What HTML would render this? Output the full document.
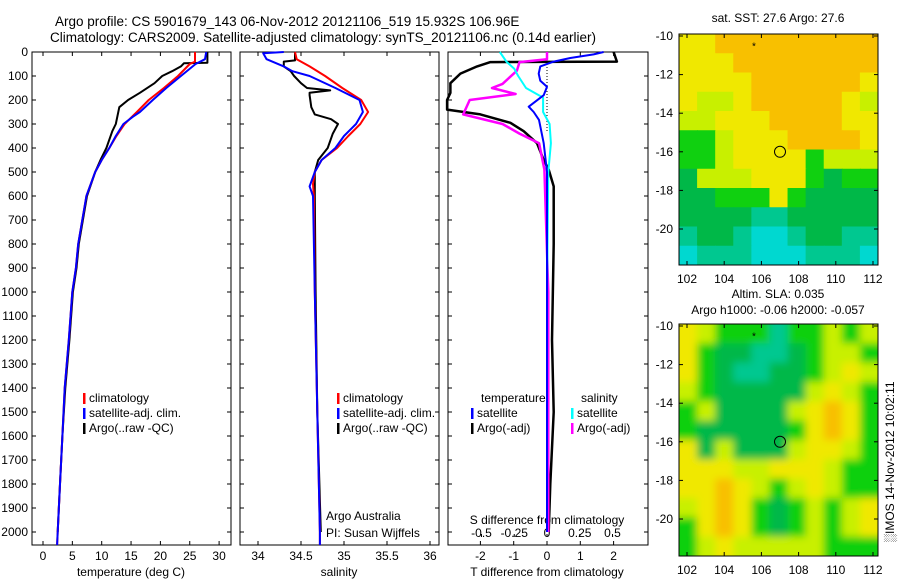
<!DOCTYPE html>
<html><head><meta charset="utf-8"><style>
html,body{margin:0;padding:0;background:#fff;width:900px;height:580px;overflow:hidden}
svg{display:block;font-family:"Liberation Sans",sans-serif}
</style></head><body>
<svg id="fig" width="900" height="580" viewBox="0 0 900 580" xmlns="http://www.w3.org/2000/svg">
<defs>
<filter id="sm" x="-5%" y="-5%" width="110%" height="110%"><feGaussianBlur stdDeviation="4"/></filter>
<clipPath id="c1"><rect x="679" y="34" width="199" height="231"/></clipPath>
<clipPath id="c2"><rect x="679" y="324" width="199" height="232"/></clipPath>
</defs>
<text x="55" y="26" font-size="13.5">Argo profile: CS 5901679_143 06-Nov-2012 20121106_519 15.932S 106.96E</text>
<text x="50" y="42" font-size="13.5">Climatology: CARS2009. Satellite-adjusted climatology: synTS_20121106.nc (0.14d earlier)</text>
<g id="g"></g>
</svg>
<script>
// ---- data ----
const tClimDepth=[0,40,50,100,150,200,250,300,350,400,450,500,600,700,800,900,1000,1200,1400,1600,1800,2000,2060];
const tClimVal=[25.9,25.9,25.0,23.0,20.6,18.0,16.0,13.9,12.5,11.3,10.0,8.9,7.4,6.7,6.0,5.6,5.0,4.4,3.7,3.3,2.9,2.5,2.4];
const tSatDepth=[0,30,50,100,150,200,250,270,300,350,400,450,500,600,700,800,900,1000,1200,1400,1600,1800,2000,2060];
const tSatVal=[27.8,27.6,26.0,23.5,21.0,18.7,16.5,15.3,13.7,12.4,11.3,10.0,8.9,7.4,6.7,6.0,5.6,5.0,4.4,3.7,3.3,2.9,2.5,2.4];
const tArgoDepth=[0,45,47,60,80,100,130,170,200,230,300,330,400,450,500,600,700,800,900,1000,1200,1400,1600,1800,2000];
const tArgoVal=[28.0,28.0,24.0,23.5,22.0,20.3,19.0,16.5,14.5,13.0,12.4,11.8,10.8,9.8,8.9,7.5,6.8,6.1,5.7,5.1,4.5,3.8,3.3,2.9,2.5];
const sClimDepth=[0,30,60,100,150,200,250,300,350,400,450,500,550,600,1000,1500,2000,2060];
const sClimVal=[34.43,34.45,34.6,34.78,34.98,35.2,35.28,35.19,35.05,34.92,34.74,34.66,34.64,34.65,34.66,34.69,34.72,34.72];
const sSatDepth=[0,5,30,60,80,100,150,200,250,300,350,400,450,500,560,600,1000,1500,2000,2060];
const sSatVal=[34.3,34.06,34.1,34.3,34.4,34.6,34.9,35.18,35.22,35.14,35.0,34.9,34.74,34.66,34.6,34.64,34.66,34.69,34.72,34.72];
const sArgoDepth=[0,35,40,60,80,100,130,150,160,170,180,230,260,280,300,340,400,450,500,600,1000,1500,2000];
const sArgoVal=[34.43,34.43,34.3,34.3,34.38,34.42,34.5,34.57,34.84,34.6,34.6,34.62,34.66,34.85,34.93,34.87,34.81,34.7,34.66,34.66,34.67,34.69,34.73];
const dTSatDepth=[0,10,25,40,60,90,120,145,180,228,250,283,380,500,1000,1500,2000];
const dTSatVal=[1.7,1.4,0.7,0.2,-0.2,-0.25,-0.2,0,-0.1,-0.55,-0.4,-0.24,-0.1,0,0,0,0];
const dTArgoDepth=[0,40,42,60,90,130,170,200,240,260,295,330,380,450,490,560,800,1200,1500,1800,2000];
const dTArgoVal=[2.0,2.1,-1.7,-2.1,-2.6,-2.9,-2.9,-3.0,-3.0,-2.0,-1.1,-0.7,-0.3,-0.1,0.05,0.2,0.2,0.15,0.2,0.1,0.05];
const dSSatDepth=[0,40,70,100,150,190,250,300,380,500,1000,2000];
const dSSatVal=[-0.36,-0.31,-0.25,-0.22,-0.16,-0.03,-0.03,0.02,0.03,0.01,0.0,0.0];
const dSArgoDepth=[0,30,42,78,133,150,175,200,260,300,340,380,490,1000,2000];
const dSArgoVal=[0,0,-0.21,-0.23,-0.34,-0.42,-0.24,-0.59,-0.64,-0.34,-0.21,-0.06,-0.02,0.01,0.01];
const depthTicks=[0,100,200,300,400,500,600,700,800,900,1000,1100,1200,1300,1400,1500,1600,1700,1800,1900,2000];
const tTicks=[0,5,10,15,20,25,30];
const sTicks=[34,34.5,35,35.5,36];
const dTTicks=[-2,-1,0,1,2];
const dSTicks=[-0.5,-0.25,0,0.25,0.5];
const lonTicks=[102,104,106,108,110,112];
const latTicks=[-10,-12,-14,-16,-18,-20];
const sstGrid=["YYOOOOOOOOO","YYYOOOOOOOO","YYYYOOOOOOY","YLLYOOOOOYL","LLYYYOOOOYY","GGLYYYOOOOY","GGLYYYYGLLL","DLLLYYYGDGG","DDGGGYGDDDD","DDDDTTDDDDD","TDDTCCTDDTT","CTTTCCCTTTC"];
const slaGrid=["YLGGGTGGLGL","YGDDTTDGLLG","YGDTTDDGLYL","LGDDDDDLYLG","GLDDDDLYOYG","GDDDDDGYOYG","YDLDDDLYYLG","YYYLLYYYLGG","YYOYLGLYLGG","LYOYGDGLGLY","GYOYGDGLGLY","GLYLLLLLGGG"];

const NS="http://www.w3.org/2000/svg";
const G=document.getElementById('g');
function el(tag,attrs,parent){const e=document.createElementNS(NS,tag);for(const k in attrs)e.setAttribute(k,attrs[k]);(parent||G).appendChild(e);return e;}
function txt(x,y,s,anchor,size,parent){const t=el('text',{x:x,y:y,'font-size':size||12,'text-anchor':anchor||'start'},parent);t.textContent=s;return t;}
const TOP=52,BOT=545;
const yD=d=>TOP+d*0.24;
const xT=t=>43+5.87*t;
const xS=s=>258+86*(s-34);
const xdT=v=>547+33.3*v;
const xdS=v=>547+131*v;
const P1=[32,231],P2=[240,439],P3=[448,648];
function frame(x0,x1,name){const r=el('rect',{x:x0,y:TOP,width:x1-x0,height:BOT-TOP,fill:'none',stroke:'#000','stroke-width':1});

}
function line(ds,vs,fx,color,w,name){let p='';for(let i=0;i<ds.length;i++)p+=(i?'L':'M')+fx(vs[i]).toFixed(1)+','+Math.min(BOT,yD(ds[i])).toFixed(1);
const e=el('path',{d:p,fill:'none',stroke:color,'stroke-width':w,'stroke-linejoin':'round'});

}
function xticks(vals,fx,fmt,labelY,top){vals.forEach(v=>{const x=fx(v);el('line',{x1:x,x2:x,y1:BOT,y2:BOT-4,stroke:'#000'});if(top)el('line',{x1:x,x2:x,y1:TOP,y2:TOP+4,stroke:'#000'});
if(labelY){const t=txt(x,labelY,fmt(v),'middle',12);

}});}
frame(P1[0],P1[1],'temperature-panel');frame(P2[0],P2[1],'salinity-panel');frame(P3[0],P3[1],'difference-panel');
depthTicks.forEach(d=>{const y=yD(d);[P1,P2,P3].forEach(([a,b])=>{el('line',{x1:a,x2:a+4,y1:y,y2:y,stroke:'#000'});el('line',{x1:b,x2:b-4,y1:y,y2:y,stroke:'#000'});});
const t=txt(28,y+4,String(d),'end',12);

});
xticks(tTicks,xT,v=>String(v),560,true);
xticks(sTicks,xS,v=>String(v),560,true);
xticks(dTTicks,xdT,v=>String(v),560,true);
dSTicks.forEach(v=>{const x=xdS(v);el('line',{x1:x,x2:x,y1:537,y2:534,stroke:'#000'});const t=txt(x,537,String(v),'middle',12);

});
[['x-axis-title-temperature',131,'temperature (deg C)'],['x-axis-title-salinity',339,'salinity'],['x-axis-title-t-diff',547,'T difference from climatology']].forEach(([n,x,s])=>{const t=txt(x,576,s,'middle',12);

});
let st=txt(547,524,'S difference from climatology','middle',12);


el('line',{x1:547,x2:547,y1:TOP,y2:yD(330),stroke:'#000','stroke-dasharray':'1,2'});
line(tArgoDepth,tArgoVal,xT,'#000',2,'temp-argo-line');
line(tClimDepth,tClimVal,xT,'#f00',2,'temp-climatology-line');
line(tSatDepth,tSatVal,xT,'#00f',2,'temp-satellite-line');
line(sArgoDepth,sArgoVal,xS,'#000',2,'sal-argo-line');
line(sClimDepth,sClimVal,xS,'#f00',2,'sal-climatology-line');
line(sSatDepth,sSatVal,xS,'#00f',2,'sal-satellite-line');
line(dTArgoDepth,dTArgoVal,xdT,'#000',2.5,'tdiff-argo-line');
line(dSArgoDepth,dSArgoVal,xdS,'#f0f',2.5,'sdiff-argo-line');
line(dSSatDepth,dSSatVal,xdS,'#0ff',2,'sdiff-satellite-line');
line(dTSatDepth,dTSatVal,xdT,'#00f',2,'tdiff-satellite-line');
function leg(x,y,color,s,name){el('rect',{x:x,y:y-9,width:2.5,height:11,fill:color});const t=txt(x+6,y,s,'start',12);

}
leg(83,402,'#f00','climatology','legend-climatology');leg(83,417,'#00f','satellite-adj. clim.','legend-satellite');leg(83,432,'#000','Argo(..raw -QC)','legend-argo');
leg(337,402,'#f00','climatology','legend2-climatology');leg(337,417,'#00f','satellite-adj. clim.','legend2-satellite');leg(337,432,'#000','Argo(..raw -QC)','legend2-argo');
let lt=txt(481,402,'temperature','start',12);
let ls=txt(581,402,'salinity','start',12);
leg(471,417,'#00f','satellite','legend-t-satellite');leg(471,432,'#000','Argo(-adj)','legend-t-argo');
leg(571,417,'#0ff','satellite','legend-s-satellite');leg(571,432,'#f0f','Argo(-adj)','legend-s-argo');
let a1=txt(326,520,'Argo Australia','start',12);
let a2=txt(326,537,'PI: Susan Wijffels','start',12);
const COL={O:'#f8c000',Y:'#f0e800',L:'#c8f000',G:'#10d010',D:'#00b848',T:'#00c890',C:'#00d8d0'};
function map(grid,y0,y1,clip,blur,name,title1,title2){
  const x0=679,x1=878;
  const g=el('g',{'clip-path':'url(#'+clip+')'});
  
  
  const inner=el('g',blur?{filter:'url(#sm)'}:{},g);
  const rows=grid.length,cols=grid[0].length,cw=(x1-x0)/cols,ch=(y1-y0)/rows;
  const pad=blur?10:0;
  grid.forEach((row,r)=>{[...row].forEach((c,k)=>{
    const xa=x0+k*cw-(k==0?pad:0), xb=x0+(k+1)*cw+(k==cols-1?pad:0.8);
    const ya=y0+r*ch-(r==0?pad:0), yb=y0+(r+1)*ch+(r==rows-1?pad:0.8);
    el('rect',{x:xa,y:ya,width:xb-xa,height:yb-ya,fill:COL[c]},inner);});});
  el('rect',{x:x0,y:y0,width:x1-x0,height:y1-y0,fill:'none',stroke:'#000'});
  const lx=v=>687+(v-102)*18.6, ly=v=>(y0+2)+(-10-v)*19.3;
  lonTicks.forEach(v=>{const x=lx(v);el('line',{x1:x,x2:x,y1:y0,y2:y0+4,stroke:'#000'});el('line',{x1:x,x2:x,y1:y1,y2:y1-4,stroke:'#000'});
    const t=txt(x,y1+18,String(v),'middle',12);});
  latTicks.forEach(v=>{const y=ly(v);el('line',{x1:x0,x2:x0+4,y1:y,y2:y,stroke:'#000'});el('line',{x1:x1,x2:x1-4,y1:y,y2:y,stroke:'#000'});
    const t=txt(673,y+4,String(v),'end',12);});
  const c=el('circle',{cx:lx(107),cy:ly(-16),r:5.5,fill:'none',stroke:'#000','stroke-width':1});
  
  const s=txt(lx(105.6),ly(-10.5)+4,'*','middle',10);
  if(title2){const t=txt(778,y0-26,title1,'middle',12);
    const t2=txt(778,y0-10,title2,'middle',12);}
  else{const t=txt(778,y0-12,title1,'middle',12);}
}
map(sstGrid,34,265,'c1',false,'sst-map','sat. SST: 27.6 Argo: 27.6');
map(slaGrid,324,556,'c2',true,'sla-map','Altim. SLA: 0.035','Argo h1000: -0.06 h2000: -0.057');
const im=txt(0,0,'\u2591IMOS 14-Nov-2012 10:02:11','middle',12);
im.setAttribute('transform','translate(894,462) rotate(-90)');


</script>
</body></html>
